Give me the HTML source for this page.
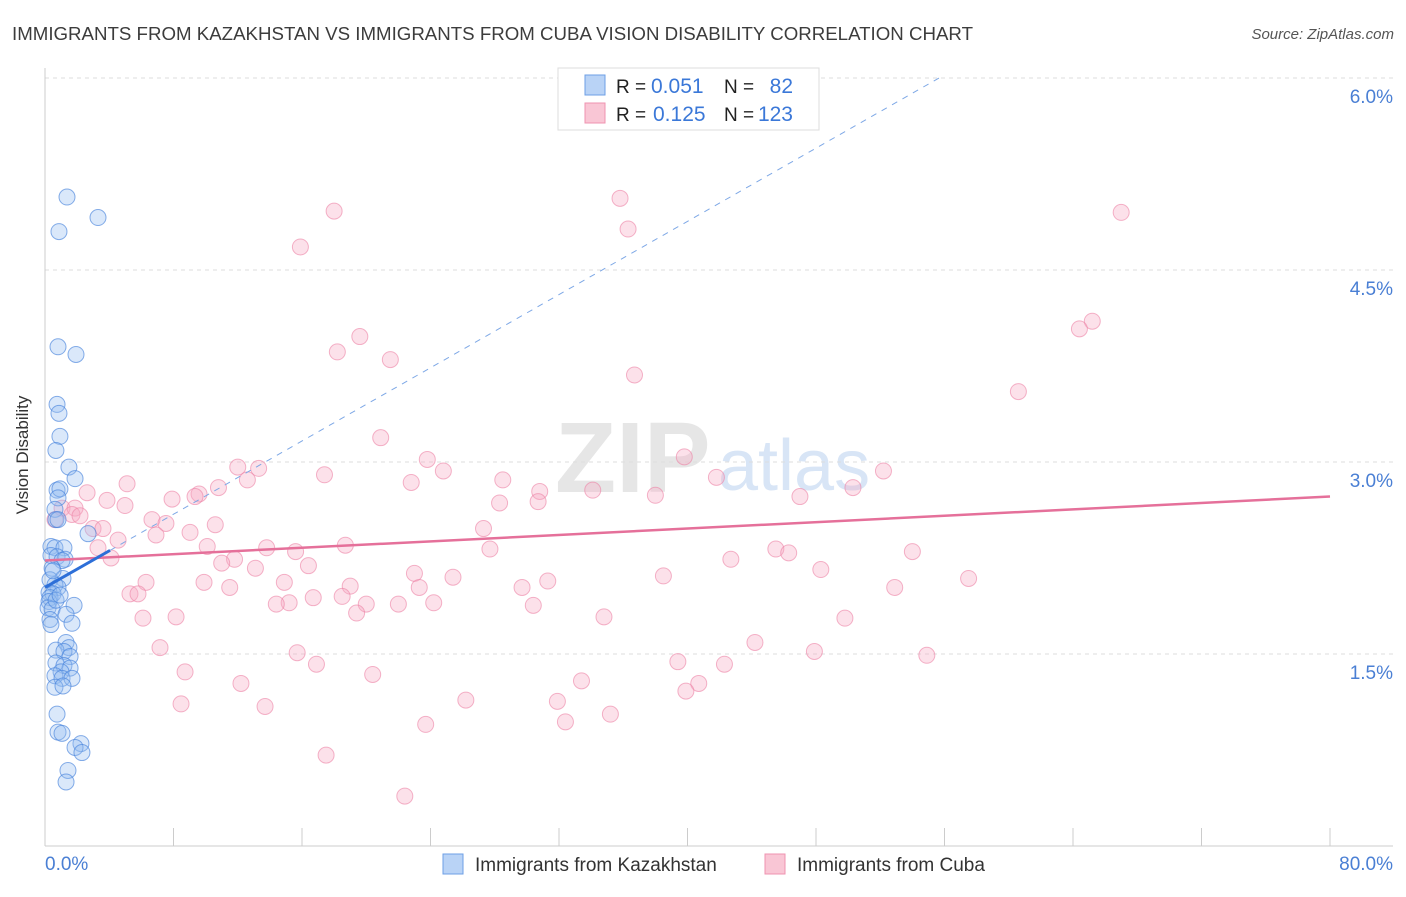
<!DOCTYPE html>
<html><head><meta charset="utf-8"><style>
body{margin:0;background:#fff;font-family:"Liberation Sans",sans-serif;}
svg text{font-family:"Liberation Sans",sans-serif;}
</style></head><body>
<svg id="chart" width="1406" height="892" xmlns="http://www.w3.org/2000/svg">
<text x="12" y="40" font-size="18" fill="#3c3c3c" textLength="961" lengthAdjust="spacingAndGlyphs">IMMIGRANTS FROM KAZAKHSTAN VS IMMIGRANTS FROM CUBA VISION DISABILITY CORRELATION CHART</text>
<text x="1394" y="39" font-size="15" fill="#555" font-style="italic" text-anchor="end">Source: ZipAtlas.com</text>
<text x="28" y="455" font-size="17" fill="#333" transform="rotate(-90 28 455)" text-anchor="middle">Vision Disability</text>
<text x="555" y="492" font-size="100" fill="#e6e6e6" font-family="Liberation Serif" font-weight="bold">ZIP</text>
<text x="718" y="490" font-size="72" fill="#d8e5f6">atlas</text>
<g id="grid"></g><g id="axes"></g><g id="pts"></g><g id="lines"></g>
<g>
<rect x="558" y="68" width="261" height="62" fill="#fff" stroke="#ddd"/>
<rect x="585" y="75" width="20" height="20" fill="#b9d3f6" stroke="#6d9fe6"/>
<rect x="585" y="103" width="20" height="20" fill="#f9c6d5" stroke="#ef93b0"/>
<text x="616" y="93" font-size="19" fill="#222">R =</text>
<text x="651" y="93" font-size="21" fill="#3b78d8">0.051</text>
<text x="724" y="93" font-size="19" fill="#222">N =</text>
<text x="793" y="93" font-size="21" fill="#3b78d8" text-anchor="end">82</text>
<text x="616" y="121" font-size="19" fill="#222">R =</text>
<text x="653" y="121" font-size="21" fill="#3b78d8">0.125</text>
<text x="724" y="121" font-size="19" fill="#222">N =</text>
<text x="793" y="121" font-size="21" fill="#3b78d8" text-anchor="end">123</text>
</g>
<g>
<rect x="443" y="854" width="20" height="20" fill="#b9d3f6" stroke="#6d9fe6"/>
<text x="475" y="871" font-size="19" fill="#333">Immigrants from Kazakhstan</text>
<rect x="765" y="854" width="20" height="20" fill="#f9c6d5" stroke="#ef93b0"/>
<text x="797" y="871" font-size="19" fill="#333">Immigrants from Cuba</text>
</g>
</svg>
<script>
const yTicks=[1.5,3.0,4.5,6.0];
const yTickLabels=["1.5%","3.0%","4.5%","6.0%"];
const xTickLabels=["0.0%","80.0%"];
const blueX=[1.37,3.30,0.87,0.81,1.93,0.75,0.87,0.93,0.68,1.49,1.87,0.75,0.93,0.81,0.62,0.68,0.81,2.68,0.37,0.62,1.18,0.37,0.75,1.25,1.06,0.44,1.12,0.31,0.62,0.81,0.25,0.50,0.31,0.25,1.81,0.19,0.44,1.31,0.31,0.37,1.68,1.31,1.49,0.68,1.18,1.56,0.68,1.18,1.56,1.00,0.62,1.06,1.68,0.62,1.12,0.75,0.81,1.06,2.24,1.87,2.30,1.43,1.31,0.5,0.69,0.94];
const blueY=[5.07,4.91,4.80,3.90,3.84,3.45,3.38,3.20,3.09,2.96,2.87,2.78,2.79,2.72,2.63,2.55,2.55,2.44,2.34,2.33,2.33,2.27,2.26,2.24,2.23,2.17,2.09,2.08,2.04,2.02,1.98,1.97,1.94,1.91,1.88,1.86,1.85,1.81,1.77,1.73,1.74,1.59,1.55,1.53,1.52,1.48,1.43,1.41,1.39,1.36,1.33,1.31,1.31,1.24,1.25,1.03,0.89,0.88,0.80,0.77,0.73,0.59,0.50,2.15,1.92,1.96];
const pinkX=[18.0,35.8,36.3,67.0,15.9,65.2,64.4,19.6,18.2,21.5,36.7,60.6,20.9,23.8,39.8,12.0,13.3,24.8,17.4,28.5,52.2,41.8,12.6,22.8,5.11,50.3,2.62,10.8,9.59,7.91,9.34,3.86,30.8,34.1,38.0,47.0,30.7,28.3,4.98,1.06,1.87,1.68,2.18,6.66,7.53,0.62,10.6,2.99,9.03,27.3,3.61,6.91,4.55,18.7,3.30,10.1,13.8,15.6,27.7,45.5,46.3,54.0,4.11,42.7,11.8,11.0,16.4,13.1,23.0,25.4,48.3,38.5,57.5,6.29,9.90,14.9,19.0,31.3,29.7,52.9,5.29,5.79,23.3,11.5,16.7,18.5,20.0,22.0,24.2,30.4,15.2,14.4,19.4,6.10,8.16,34.8,49.8,44.2,7.16,15.7,47.9,54.9,16.9,39.4,42.3,8.72,20.4,33.4,40.7,39.9,12.2,26.2,31.9,8.47,13.7,35.2,32.4,23.7,17.5,22.4];
const pinkY=[4.96,5.06,4.82,4.95,4.68,4.10,4.04,3.98,3.86,3.80,3.68,3.55,3.19,3.02,3.04,2.96,2.95,2.93,2.90,2.86,2.93,2.88,2.86,2.84,2.83,2.80,2.76,2.80,2.75,2.71,2.73,2.70,2.77,2.78,2.74,2.73,2.69,2.68,2.66,2.64,2.64,2.59,2.58,2.55,2.52,2.55,2.51,2.48,2.45,2.48,2.48,2.43,2.39,2.35,2.33,2.34,2.33,2.30,2.32,2.32,2.29,2.30,2.25,2.24,2.24,2.21,2.19,2.17,2.13,2.10,2.16,2.11,2.09,2.06,2.06,2.06,2.03,2.07,2.02,2.02,1.97,1.97,2.02,2.02,1.94,1.95,1.89,1.89,1.90,1.88,1.90,1.89,1.82,1.78,1.79,1.79,1.78,1.59,1.55,1.51,1.52,1.49,1.42,1.44,1.42,1.36,1.34,1.29,1.27,1.21,1.27,1.14,1.13,1.11,1.09,1.03,0.97,0.95,0.71,0.39];
const pinkTrend=[2.23,2.73]; // value at x=0 and x=80
const blueTrend=[2.02,0.0715]; // intercept, slope
const blueSolidEnd=4.05;

const X=v=>45+v*1285/80, Y=v=>846-v*128;
const NS="http://www.w3.org/2000/svg";
function mk(tag,at,parent){const e=document.createElementNS(NS,tag);for(const k in at)e.setAttribute(k,at[k]);document.getElementById(parent).appendChild(e);return e;}
yTicks.forEach((t,i)=>{
  const g=mk('line',{x1:45,x2:1393,y1:Y(t),y2:Y(t),stroke:'#ddd','stroke-dasharray':'4,4'},'grid');
  
  
  const tx=mk('text',{x:1393,y:Y(t)+25,'font-size':19,fill:'#4a7fd4','text-anchor':'end'},'axes');
  tx.textContent=yTickLabels[i];
  
  
});
const ax=mk('line',{x1:45,x2:45,y1:68,y2:846,stroke:'#ccc'},'axes');


const bx=mk('line',{x1:45,x2:1393,y1:846,y2:846,stroke:'#ccc'},'axes');


for(let i=0;i<=10;i++){const t=mk('line',{x1:X(i*8),x2:X(i*8),y1:828,y2:846,stroke:'#ccc'},'axes');

}
[[0,'start',45],[80,'end',1393]].forEach((d,i)=>{const t=mk('text',{x:d[2],y:870,'font-size':19,fill:'#4a7fd4','text-anchor':d[1]},'axes');t.textContent=xTickLabels[i];

});
pinkX.forEach((x,i)=>{const c=mk('circle',{cx:X(x),cy:Y(pinkY[i]),r:8,fill:'rgba(246,170,195,0.35)',stroke:'rgba(236,130,165,0.6)','stroke-width':1},'pts');

});
blueX.forEach((x,i)=>{const c=mk('circle',{cx:X(x),cy:Y(blueY[i]),r:8,fill:'rgba(150,190,240,0.35)',stroke:'rgba(70,130,220,0.65)','stroke-width':1},'pts');

});
const pl=mk('line',{x1:X(0),y1:Y(pinkTrend[0]),x2:X(80),y2:Y(pinkTrend[1]),stroke:'#e5709a','stroke-width':2.5},'lines');


const yEnd=6.0, xEnd=(yEnd-blueTrend[0])/blueTrend[1];
const bd=mk('line',{x1:X(blueSolidEnd),y1:Y(blueTrend[0]+blueTrend[1]*blueSolidEnd),x2:X(xEnd),y2:Y(yEnd),stroke:'#7ea8e6','stroke-width':1,'stroke-dasharray':'6,6'},'lines');


const bl=mk('line',{x1:X(0),y1:Y(blueTrend[0]),x2:X(blueSolidEnd),y2:Y(blueTrend[0]+blueTrend[1]*blueSolidEnd),stroke:'#2d6fd8','stroke-width':3},'lines');


</script>
</body></html>
